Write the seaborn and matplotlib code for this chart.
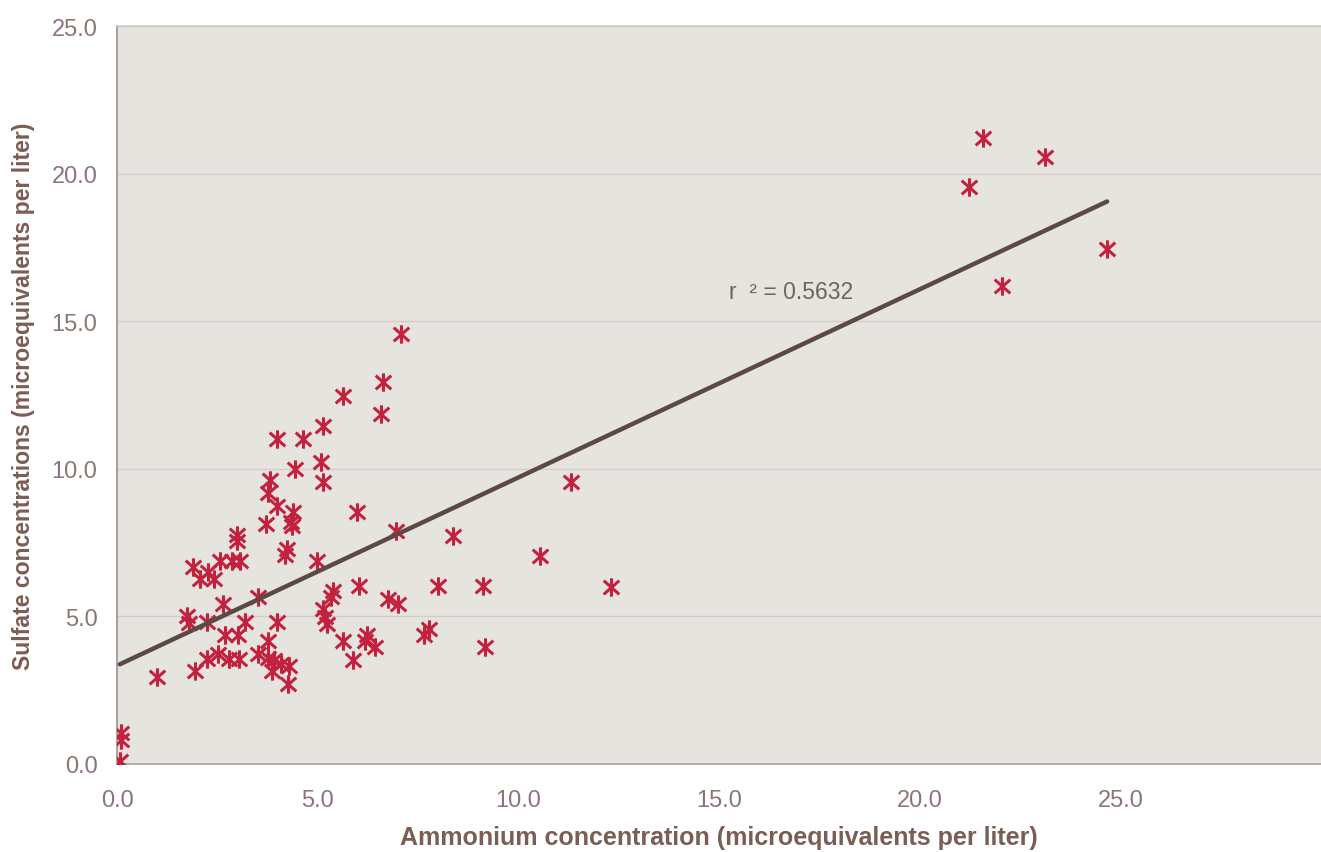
import matplotlib
matplotlib.use("Agg")
import matplotlib.pyplot as plt
from matplotlib.path import Path
import numpy as np
import pandas as pd
import seaborn as sns

# ammonium (x) and sulfate (y), microequivalents per liter
ammonium = [
    21.22, 21.57, 23.12, 22.05, 24.67,
    7.07, 6.62, 5.64, 6.57, 3.99, 4.64, 5.14, 5.07, 4.44, 5.12,
    3.82, 3.77, 3.99, 4.39, 4.34, 4.37, 3.70, 5.99, 11.31, 8.36,
    6.94, 3.00, 3.00, 4.24, 4.19, 4.99, 10.54, 12.31, 9.11, 8.01,
    6.02, 5.37, 5.34, 6.74, 6.99, 5.14, 5.19, 5.24, 3.50, 2.65,
    1.90, 2.27, 2.07, 2.42, 2.57, 2.87, 3.07, 1.75, 1.80, 2.25,
    3.20, 3.99, 2.70, 3.02, 3.75, 5.64, 6.22, 6.19, 6.44, 5.87,
    7.77, 7.64, 9.16, 2.25, 2.52, 2.80, 3.05, 3.50, 3.77, 3.92,
    4.09, 4.29, 3.85, 4.27, 1.95, 1.00, 0.10, 0.10, 0.07,
]
sulfate = [
    19.56, 21.22, 20.58, 16.20, 17.46,
    14.58, 12.95, 12.47, 11.86, 11.02, 11.02, 11.46, 10.24, 10.00, 9.56,
    9.63, 9.19, 8.75, 8.54, 8.20, 8.07, 8.14, 8.54, 9.56, 7.73,
    7.90, 7.76, 7.56, 7.29, 7.08, 6.88, 7.05, 6.00, 6.03, 6.03,
    6.03, 5.86, 5.66, 5.59, 5.42, 5.25, 4.98, 4.75, 5.66, 5.42,
    6.68, 6.51, 6.27, 6.27, 6.88, 6.88, 6.88, 5.02, 4.78, 4.81,
    4.81, 4.81, 4.37, 4.37, 4.17, 4.17, 4.37, 4.17, 3.97, 3.53,
    4.58, 4.37, 3.97, 3.56, 3.73, 3.56, 3.56, 3.73, 3.59, 3.53,
    3.39, 3.32, 3.15, 2.71, 3.15, 2.95, 1.05, 0.81, 0.10,
]
r_squared = "0.5632"
ticks = [0, 5, 10, 15, 20, 25]

df = pd.DataFrame({"ammonium": ammonium, "sulfate": sulfate})

# asterisk: vertical bar plus a steep X
star = Path(
    [(0, -1), (0, 1), (-0.85, -0.75), (0.85, 0.75), (-0.85, 0.75), (0.85, -0.75)],
    [Path.MOVETO, Path.LINETO] * 3,
)

sns.set_theme(style="whitegrid")
plt.rcParams["font.family"] = ["Liberation Sans", "DejaVu Sans"]

tick_col = "#8a7672"
label_col = "#7c5d54"
red = "#c4213f"

fig = plt.figure(figsize=(13.21, 8.53), dpi=100)
ax = fig.add_axes([0.0886, 0.1032, 0.9114, 0.8648])
ax.set_facecolor("#e6e4df")

sns.scatterplot(
    data=df, x="ammonium", y="sulfate", ax=ax,
    marker=star, s=175, color=red, edgecolor=red, linewidth=2.2, zorder=3,
)
sns.regplot(
    data=df, x="ammonium", y="sulfate", ax=ax, scatter=False, ci=None,
    truncate=True, line_kws=dict(color="#5b4943", lw=3.2, zorder=4),
)

ax.text(15.25, 16.0, "r  ² = " + r_squared, fontsize=16.5, color="#6e6460",
        ha="left", va="center")

ax.set_xlim(0, 30)
ax.set_ylim(0, 25)
ax.set_xticks(ticks)
ax.set_yticks(ticks)
ax.set_xticklabels([f"{t:.1f}" for t in ticks])
ax.set_yticklabels([f"{t:.1f}" for t in ticks])
ax.tick_params(axis="both", labelsize=17, labelcolor=tick_col)
ax.tick_params(axis="y", length=0, pad=14)
ax.tick_params(axis="x", length=6, width=0.8, color="#ccc6c4", pad=12)

ax.grid(axis="x", visible=False)
ax.grid(axis="y", color="#d6c9c9", lw=1.0)

ax.spines["right"].set_visible(False)
ax.spines["left"].set_color("#a08f8c")
ax.spines["bottom"].set_color("#a8a2a0")
ax.spines["top"].set_color("#d0c8c6")
for side in ["left", "bottom", "top"]:
    ax.spines[side].set_linewidth(1.2)

ax.set_xlabel("Ammonium concentration (microequivalents per liter)",
              fontsize=18, fontweight="bold", color=label_col, labelpad=10)
ax.set_ylabel("Sulfate concentrations (microequivalents per liter)",
              fontsize=16.6, fontweight="bold", color=label_col, labelpad=12)

fig.savefig("out.png", dpi=100, facecolor="white")
